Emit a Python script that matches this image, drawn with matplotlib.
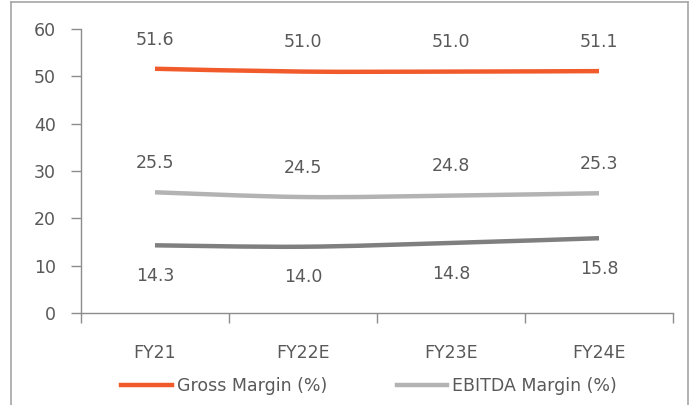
import matplotlib.pyplot as plt
from matplotlib.path import Path
from matplotlib.patches import PathPatch
from matplotlib.lines import Line2D

years = ['FY21', 'FY22E', 'FY23E', 'FY24E']
gross_margin = [51.6, 51.0, 51.0, 51.1]
ebitda_margin = [25.5, 24.5, 24.8, 25.3]
pat_margin = [14.3, 14.0, 14.8, 15.8]

plt.rcParams['font.family'] = ['DejaVu Sans']
text_color = '#595959'
axis_color = '#8C8C8C'
fs = 12.5


def smooth_path(xs, ys, tension=1 / 6):
    # Catmull-Rom style bezier segments, like Excel's smoothed lines
    verts = [(xs[0], ys[0])]
    codes = [Path.MOVETO]
    n = len(xs)
    for i in range(n - 1):
        x0, y0 = (xs[i - 1], ys[i - 1]) if i > 0 else (xs[i], ys[i])
        x1, y1 = xs[i], ys[i]
        x2, y2 = xs[i + 1], ys[i + 1]
        x3, y3 = (xs[i + 2], ys[i + 2]) if i + 2 < n else (x2, y2)
        c1 = (x1 + (x2 - x0) * tension, y1 + (y2 - y0) * tension)
        c2 = (x2 - (x3 - x1) * tension, y2 - (y3 - y1) * tension)
        verts += [c1, c2, (x2, y2)]
        codes += [Path.CURVE4] * 3
    return Path(verts, codes)


fig = plt.figure(figsize=(6.94, 4.05), dpi=100)
ax = fig.add_axes([81 / 694, 1 - 313 / 405, 592 / 694, 284 / 405])

x = list(range(len(years)))
series = [
    (gross_margin, '#F15A2B', 'Gross Margin (%)', 21),
    (ebitda_margin, '#B3B3B3', 'EBITDA Margin (%)', 21),
    (pat_margin, '#7F7F7F', None, -22),
]
handles = []
for values, color, label, offset in series:
    patch = PathPatch(smooth_path(x, values), facecolor='none', edgecolor=color,
                      linewidth=3.2, capstyle='butt')
    ax.add_patch(patch)
    if label:
        handles.append(Line2D([], [], color=color, linewidth=3.2, label=label))
    for xi, v in zip(x, values):
        ax.annotate(f'{v:.1f}', (xi, v), xytext=(0, offset), textcoords='offset points',
                    ha='center', va='center', fontsize=fs, color=text_color)

ax.set_xlim(-0.5, len(years) - 0.5)
ax.set_ylim(0, 60)
ax.set_yticks(range(0, 61, 10))
ax.set_xticks(x)
ax.set_xticklabels(years)
ax.set_xticks([i - 0.5 for i in range(len(years) + 1)], minor=True)
ax.tick_params(axis='x', which='major', length=0, pad=22, labelsize=fs, colors=text_color)
ax.tick_params(axis='x', which='minor', length=7, width=1, color=axis_color)
ax.tick_params(axis='y', length=7, width=1, color=axis_color, labelsize=fs,
               labelcolor=text_color, pad=11)
for side in ['top', 'right']:
    ax.spines[side].set_visible(False)
for side in ['left', 'bottom']:
    ax.spines[side].set_color(axis_color)
    ax.spines[side].set_linewidth(1)

fig.legend(handles=handles, loc='center', bbox_to_anchor=(0.532, 1 - 386 / 405), ncol=2,
           frameon=False, fontsize=fs, labelcolor=text_color, handlelength=2.9,
           handletextpad=0.3, columnspacing=4.0)

# outer frame, open at the bottom
frame = dict(color='#A6A6A6', linewidth=1.2, transform=fig.transFigure)
fig.add_artist(Line2D([11 / 694, 11 / 694], [0, 1 - 1.5 / 405], **frame))
fig.add_artist(Line2D([11 / 694, 688 / 694], [1 - 1.5 / 405, 1 - 1.5 / 405], **frame))
fig.add_artist(Line2D([688 / 694, 688 / 694], [0, 1 - 1.5 / 405], **frame))

fig.savefig('out.png', dpi=100)
